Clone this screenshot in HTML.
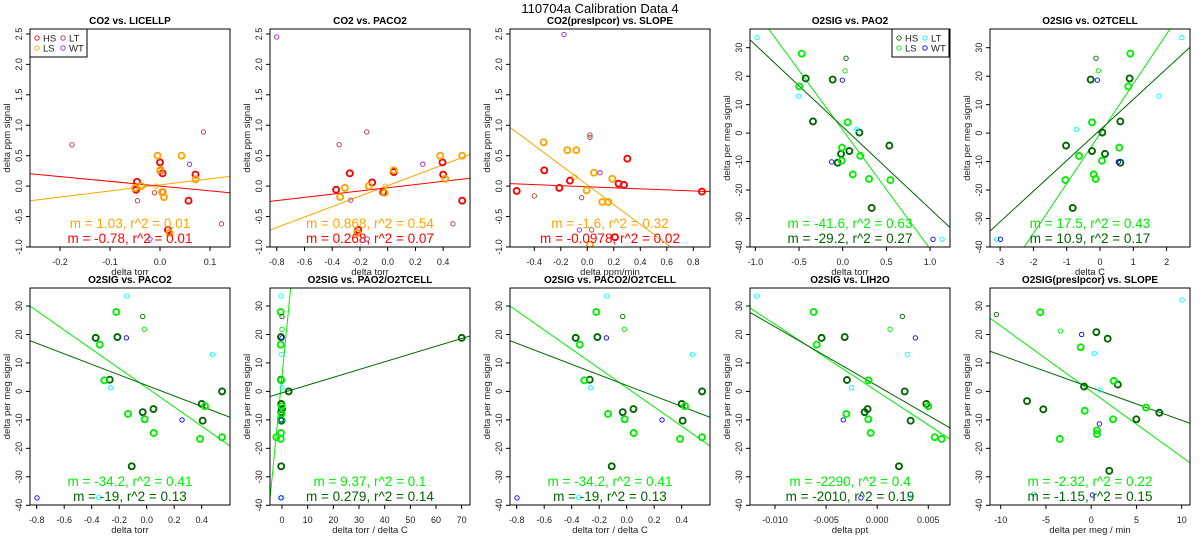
<!DOCTYPE html>
<html><head><meta charset="utf-8"><style>
html,body{margin:0;padding:0;background:#fff;overflow:hidden;width:1200px;height:550px;}
svg{display:block;font-family:"Liberation Sans",Arial,sans-serif;}
</style></head><body>
<svg id="chart" width="1200" height="550" viewBox="0 0 1200 550" xmlns="http://www.w3.org/2000/svg">
<text x="600" y="13" font-size="13" text-anchor="middle">110704a   Calibration Data 4</text>
</svg>
<script>
// ---- data ----
const p1X=[-0.046,-0.048,0,0.001,0.005,0.005,0.057,0.071,0.016, -0.005,0.043,0.001,-0.037,-0.05,0.004,0.008,0.071,0.019, -0.008, -0.176,0.087,-0.011,-0.045,0.123, 0.059,-0.02];
const p1Y=[0.07,-0.06,0.39,0.26,0.21,-0.10,-0.24,0.19,-0.72, 0.50,0.50,0.27,0.0,-0.03,-0.10,-0.18,0.11,-0.77, 0.0, 0.68,0.89,-0.11,-0.24,-0.62, 0.36,-0.87];
const p1G="HHHHHHHHHLLLLLLLLLlTTTTTWW".split('');
const p2X=[-0.372,-0.273,-0.112,-0.033,0.044,0.395,0.400,0.537,-0.213, -0.309,-0.343,-0.136,-0.023,0.044,0.378,0.537,0.415,-0.22, -0.018, -0.35,-0.151,-0.266,0.47, -0.8,0.253,-0.148];
const p2Y=[-0.06,0.21,0.06,-0.10,0.23,0.39,0.19,-0.24,-0.72, -0.03,-0.18,0.0,-0.11,0.26,0.50,0.50,0.12,-0.77, 0.0, 0.68,0.89,-0.23,-0.62, 2.45,0.36,-0.87];
const p2G="HHHHHHHHHLLLLLLLLLlTTTTWWW".split('');
const p3X=[-0.533,-0.325,-0.211,-0.131,0.236,0.277,0.302,0.865,0.209, -0.33,-0.151,-0.083,0.05,-0.005,0.113,0.158,0.189,0.02, -0.096, -0.4,-0.043,0.02,0.02,0.033, -0.176,0.096,-0.06];
const p3Y=[-0.08,0.26,-0.03,0.09,0.04,0.02,0.45,-0.09,-0.84, 0.72,0.59,0.59,0.22,-0.07,-0.26,-0.26,0.12,-0.96, 0.15, -0.16,-0.19,0.84,0.80,-0.72, 2.49,0.22,-0.72];
const p3G="HHHHHHHHHLLLLLLLLLlTTTTTWWW".split('');
const p4X=[-0.424,-0.115,-0.34,0.191,0.076,-0.019,-0.057,0.534,0.332, -0.469,-0.496,0.057,-0.008,-0.011,0.202,0.115,0.302,0.546, 0.038,0.027, -0.98,-0.504,0.16,1.137, -0.004,-0.126,1.034];
const p4Y=[19.2,18.8,4.1,0.2,-6.3,-7.3,-10.4,-4.4,-26.3, 27.9,16.4,3.8,-5.1,-9.7,-8.0,-14.5,-16.1,-16.5, 26.3,21.9, 33.6,13.0,1.3,-37.3, 18.6,-10.1,-37.3];
const p4G="HHHHHHHHHLLLLLLLLLhlTTTTWWW".split('');
const p5X=[0.89,-0.28,0.61,0.07,0.15,0.61,-0.24,-1.02,-0.82, 0.91,0.85,-0.24,0.58,0.06,-0.63,-0.19,-0.13,-1.04, -0.12,-0.05, 2.46,1.77,-0.71,-3.1, -0.08,0.55,-2.99];
const p5Y=[19.2,18.8,4.1,0.2,-7.3,-10.4,-6.3,-4.4,-26.3, 27.9,16.4,3.8,-5.1,-9.7,-8.0,-14.5,-16.1,-16.5, 26.3,21.9, 33.6,13.0,1.3,-37.3, 18.6,-10.1,-37.3];
const p5G="HHHHHHHHHLLLLLLLLLhlTTTTWWW".split('');
const p6X=[-0.371,-0.213,-0.269,0.548,0.4,-0.029,0.049,0.407,-0.109, -0.221,-0.342,-0.308,-0.136,-0.015,0.051,0.424,0.388,0.548, -0.029,-0.017, -0.145,0.478,-0.264,-0.349, -0.148,0.257,-0.798];
const p6Y=[18.8,19.1,4.1,0.0,-4.4,-7.3,-6.2,-10.3,-26.3, 27.9,16.4,3.9,-7.9,-9.8,-14.6,-5.2,-16.7,-16.1, 26.3,21.8, 33.5,13.0,1.3,-37.3, 18.8,-10.0,-37.4];
const p6G="HHHHHHHHHLLLLLLLLLhlTTTTWWW".split('');
const p7X=[70,2.6,-0.4,-0.4,-0.3,-0.3,0,-0.2,-0.3, -0.5,-0.5,-0.3,-0.1,-0.2,-0.4,-0.4,-0.5,-2.2, 0,0, -0.4,-0.2,0,-0.1, 0,-0.3,-0.4];
const p7Y=[18.8,0.0,19.1,4.1,-4.4,-7.3,-6.2,-10.3,-26.3, 27.9,16.4,3.9,-5.2,-7.9,-9.8,-14.6,-16.7,-16.1, 26.3,21.8, 33.5,13.0,1.3,-37.3, 18.8,-10.0,-37.4];
const p7G="HHHHHHHHHLLLLLLLLLhlTTTTWWW".split('');
const p8X=[-0.371,-0.213,-0.269,0.548,0.4,-0.029,0.049,0.407,-0.109, -0.221,-0.342,-0.308,-0.136,-0.015,0.051,0.424,0.388,0.548, -0.029,-0.017, -0.145,0.478,-0.264,-0.349, -0.148,0.257,-0.798];
const p8Y=[18.8,19.1,4.1,0.0,-4.4,-7.3,-6.2,-10.3,-26.3, 27.9,16.4,3.9,-7.9,-9.8,-14.6,-5.2,-16.7,-16.1, 26.3,21.8, 33.5,13.0,1.3,-37.3, 18.8,-10.0,-37.4];
const p8G="HHHHHHHHHLLLLLLLLLhlTTTTWWW".split('');
const p9X=[-0.00544,-0.00318,-0.00296,0.00269,0.00481,-0.00123,-0.00094,0.00327,0.00213, -0.00622,-0.00592,-0.00084,-0.00302,-0.00087,-0.00064,0.005,0.00562,0.0063, 0.00246,0.00126, -0.0118,0.00294,-0.0025,0.0032, 0.00373,-0.00332,-0.00159];
const p9Y=[18.8,19.1,4.0,0.0,-4.4,-7.3,-6.2,-10.3,-26.3, 27.9,16.4,3.9,-7.9,-9.8,-14.6,-5.2,-16.1,-16.7, 26.3,21.8, 33.5,13.0,1.3,-37.3, 18.8,-10.0,-37.4];
const p9G="HHHHHHHHHLLLLLLLLLhlTTTTWWW".split('');
const p10X=[0.57,1.82,2.94,-0.79,-7.09,-5.29,7.53,4.99,2.0, -5.62,-1.16,2.49,6.06,-0.72,2.41,0.64,0.64,-3.48, -10.48,-3.41, 10.04,0.35,0.98,-6.36, -1.05,0.9,0.13];
const p10Y=[20.8,18.5,2.4,1.7,-3.4,-6.3,-7.5,-9.8,-27.9, 27.8,15.5,3.7,-5.7,-6.8,-9.8,-13.7,-15.0,-16.7, 27.0,21.2, 32.1,13.3,0.5,-36.1, 20.0,-11.4,-36.4];
const p10G="HHHHHHHHHLLLLLLLLLhlTTTTWWW".split('');
// fit lines: [LS, HS]
const slopes=[[1.005,-0.78],[0.86,0.263],[-1.62,-0.087],[-41.8,-28.8],[17.5,10.75],[-33.8,-18.5],[9.2,0.273],[-33.8,-18.5],[-2355,-2074],[-2.30,-1.145]];
const intercepts=[[0.02,0.0],[0.007,-0.027],[0.02,-0.011],[1.1,2.2],[-0.2,1.1],[1.3,2.1],[5.3,-0.52],[1.3,2.1],[0.0,1.95],[0.0,1.3]];
const annotations=[["m = 1.03, r^2 = 0.01","m = -0.78, r^2 = 0.01"],["m = 0.868, r^2 = 0.54","m = 0.268, r^2 = 0.07"],["m = -1.6, r^2 = 0.32","m = -0.0978, r^2 = 0.02"],["m = -41.6, r^2 = 0.63","m = -29.2, r^2 = 0.27"],["m = 17.5, r^2 = 0.43","m = 10.9, r^2 = 0.17"],["m = -34.2, r^2 = 0.41","m = -19, r^2 = 0.13"],["m = 9.37, r^2 = 0.1","m = 0.279, r^2 = 0.14"],["m = -34.2, r^2 = 0.41","m = -19, r^2 = 0.13"],["m = -2290, r^2 = 0.4","m = -2010, r^2 = 0.19"],["m = -2.32, r^2 = 0.22","m = -1.15, r^2 = 0.15"]];
const titles=["CO2 vs. LICELLP","CO2 vs. PACO2","CO2(presIpcor) vs. SLOPE","O2SIG vs. PAO2","O2SIG vs. O2TCELL","O2SIG vs. PACO2","O2SIG vs. PAO2/O2TCELL","O2SIG vs. PACO2/O2TCELL","O2SIG vs. LIH2O","O2SIG(presIpcor) vs. SLOPE"];
const xLabels=["delta torr","delta torr","delta ppm/min","delta torr","delta C","delta torr","delta torr / delta C","delta torr / delta C","delta ppt","delta per meg / min"];
const yLabels=["delta ppm signal","delta ppm signal","delta ppm signal","delta per meg signal","delta per meg signal","delta per meg signal","delta per meg signal","delta per meg signal","delta per meg signal","delta per meg signal"];
const xTicks=[[-0.2,-0.1,0,0.1],[-0.8,-0.6,-0.4,-0.2,0,0.2,0.4],[-0.4,-0.2,0,0.2,0.4,0.6,0.8],[-1,-0.5,0,0.5,1],[-3,-2,-1,0,1,2],[-0.8,-0.6,-0.4,-0.2,0,0.2,0.4],[0,10,20,30,40,50,60,70],[-0.8,-0.6,-0.4,-0.2,0,0.2,0.4],[-0.01,-0.005,0,0.005],[-10,-5,0,5,10]];
const xTickLabels=[["-0.2","-0.1","0.0","0.1"],["-0.8","-0.6","-0.4","-0.2","0.0","0.2","0.4"],["-0.4","-0.2","0.0","0.2","0.4","0.6","0.8"],["-1.0","-0.5","0.0","0.5","1.0"],["-3","-2","-1","0","1","2"],["-0.8","-0.6","-0.4","-0.2","0.0","0.2","0.4"],["0","10","20","30","40","50","60","70"],["-0.8","-0.6","-0.4","-0.2","0.0","0.2","0.4"],["-0.010","-0.005","0.000","0.005"],["-10","-5","0","5","10"]];
const yTicksCO2=[-1,-0.5,0,0.5,1,1.5,2,2.5];
const yTickLabelsCO2=["-1.0","-0.5","0.0","0.5","1.0","1.5","2.0","2.5"];
const yTicksO2=[-40,-30,-20,-10,0,10,20,30];
const yTickLabelsO2=["-40","-30","-20","-10","0","10","20","30"];

// ---- layout (scales) ----
const XS=[[160,500],[387.7,138.7],[587.3,132.5],[842.7,87.35],[1100,33.3],[146.7,137.5],[282,2.567],[626.7,137.5],[877.2,10222],[1091.2,9.05]];
const DX=[p1X,p2X,p3X,p4X,p5X,p6X,p7X,p8X,p9X,p10X];
const DY=[p1Y,p2Y,p3Y,p4Y,p5Y,p6Y,p7Y,p8Y,p9Y,p10Y];
const DG=[p1G,p2G,p3G,p4G,p5G,p6G,p7G,p8G,p9G,p10G];
const CO2C={H:"#ff0000",L:"#ffa500",h:"#ff0000",l:"#ffa500",T:"#b03c3c",W:"#a020f0"};
const O2C={H:"#006400",L:"#00ee00",h:"#006400",l:"#00ee00",T:"#00ffff",W:"#0000ff"};
const NS="http://www.w3.org/2000/svg";
const svg=document.getElementById('chart');
function mk(tag,attrs,parent){const e=document.createElementNS(NS,tag);for(const k in attrs)e.setAttribute(k,attrs[k]);(parent||svg).appendChild(e);return e;}
const defs=mk('defs',{});
for(let i=0;i<10;i++){
  const row=i<5?0:1, col=i%5;
  const left=30+240*col, w=200, top=row?288:29, bot=row?505:247, h=bot-top;
  const co2=i<3;
  const yz=co2?186.1:(row?391.4:133.1), ys=co2?60.86:2.847;
  const sx=v=>XS[i][0]+v*XS[i][1], sy=v=>yz-v*ys;
  const C=co2?CO2C:O2C;
  const g=mk('g',{});
  
  
  const cp=mk('clipPath',{id:'cp'+i},defs); mk('rect',{x:left,y:top,width:w,height:h},cp);
  const t=mk('text',{x:left+w/2,y:top-5,'font-size':10,'font-weight':'bold','text-anchor':'middle'},g);
  t.textContent=titles[i];
  
  
  const xt=xTicks[i];
  for(let k=0;k<xt.length;k++){
    const px=sx(xt[k]);
    mk('line',{x1:px,x2:px,y1:bot,y2:bot+4,stroke:'#000','stroke-width':1},g);
    const tl=mk('text',{x:px,y:bot+18,'font-size':9,'text-anchor':'middle',fill:'#222'},g);
    tl.textContent=xTickLabels[i][k];
    
    
  }
  const xtl=mk('text',{x:left+w/2,y:bot+28,'font-size':9.5,'text-anchor':'middle',fill:'#222'},g);
  xtl.textContent=xLabels[i];
  
  
  const yt=co2?yTicksCO2:yTicksO2, ytl=co2?yTickLabelsCO2:yTickLabelsO2;
  for(let k=0;k<yt.length;k++){
    const py=sy(yt[k]);
    mk('line',{x1:left-4,x2:left,y1:py,y2:py,stroke:'#000','stroke-width':1},g);
    const tl=mk('text',{x:0,y:0,'font-size':9,'text-anchor':'middle',fill:'#222',transform:`translate(${left-8},${py}) rotate(-90)`},g);
    tl.textContent=ytl[k];
    
    
  }
  const ya=mk('text',{x:0,y:0,'font-size':9.5,'text-anchor':'middle',fill:'#222',transform:`translate(${left-20},${(top+bot)/2}) rotate(-90)`},g);
  ya.textContent=yLabels[i];
  
  
  const lg=mk('g',{'clip-path':`url(#cp${i})`},g);
  const x0=(left-XS[i][0])/XS[i][1], x1=(left+w-XS[i][0])/XS[i][1];
  [['L',0],['H',1]].forEach(([grp,j])=>{
    const m=slopes[i][j], b=intercepts[i][j];
    const ln=mk('line',{x1:sx(x0),y1:sy(m*x0+b),x2:sx(x1),y2:sy(m*x1+b),stroke:C[grp],'stroke-width':1},lg);
    
    
  });
  const X=DX[i],Y=DY[i],G=DG[i];
  for(let k=0;k<X.length;k++){
    const bold=G[k]==='H'||G[k]==='L';
    const c=mk('circle',{cx:sx(X[k]),cy:sy(Y[k]),r:bold?3:2.2,fill:'none',stroke:C[G[k]],'stroke-width':bold?1.9:0.9},lg);
    
    
  }
  const a1=mk('text',{x:left+w/2,y:row?486:228,'font-size':13.5,'text-anchor':'middle',fill:C.L},g);
  a1.textContent=annotations[i][0];
  
  
  const a2=mk('text',{x:left+w/2,y:row?501:243,'font-size':13.5,'text-anchor':'middle',fill:C.H},g);
  a2.textContent=annotations[i][1];
  
  
  const box=mk('rect',{x:left,y:top,width:w,height:h,fill:'none',stroke:'#000','stroke-width':1},g);
  
  
  if(i===0||i===3){
    const lx=i===0?30:892, lw=57;
    const leg=mk('g',{},g);
    
    
    mk('rect',{x:lx,y:29,width:lw,height:28,fill:'#fff',stroke:'#000','stroke-width':1},leg);
    [['H','HS',0,0],['T','LT',1,0],['L','LS',0,1],['W','WT',1,1]].forEach(([k,lab,cx,cy])=>{
      const ex=lx+7+cx*26, ey=38+cy*10;
      mk('circle',{cx:ex,cy:ey,r:2.2,fill:'none',stroke:C[k],'stroke-width':0.9},leg);
      const tx=mk('text',{x:ex+6,y:ey+3.5,'font-size':9.5,fill:'#222'},leg);
      tx.textContent=lab;
      
      
    });
  }
}
</script>
</body></html>
